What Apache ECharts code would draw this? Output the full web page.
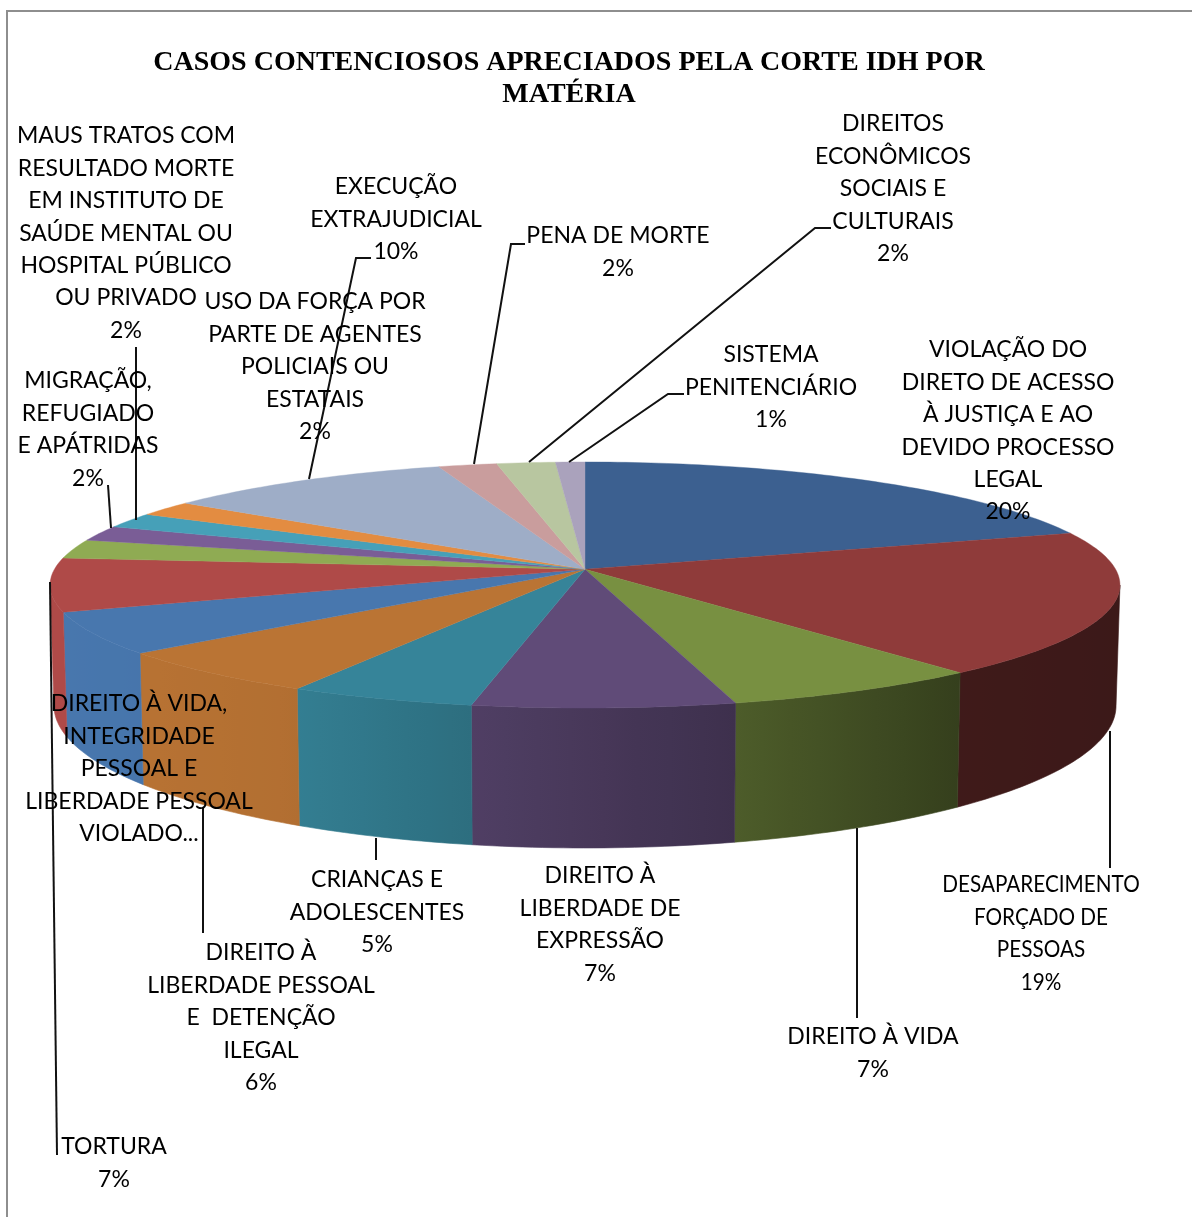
<!DOCTYPE html>
<html lang="pt">
<head>
<meta charset="utf-8">
<title>Casos contenciosos por matéria</title>
<style>html,body{margin:0;padding:0;background:#fff}#chart{width:1192px;height:1217px}</style>
<script src="https://cdn.jsdelivr.net/npm/echarts@6/dist/echarts.min.js"></script>
</head>
<body>
<div id="chart"></div>
<script>
// Subject names, clockwise from twelve o'clock.
const categories = [
  'VIOLAÇÃO DO\nDIRETO DE ACESSO\nÀ JUSTIÇA E AO\nDEVIDO PROCESSO\nLEGAL',
  'DESAPARECIMENTO\nFORÇADO DE\nPESSOAS',
  'DIREITO À VIDA',
  'DIREITO À\nLIBERDADE DE\nEXPRESSÃO',
  'CRIANÇAS E\nADOLESCENTES',
  'DIREITO À\nLIBERDADE PESSOAL\nE  DETENÇÃO\nILEGAL',
  'DIREITO À VIDA,\nINTEGRIDADE\nPESSOAL E\nLIBERDADE PESSOAL\nVIOLADO...',
  'TORTURA',
  '',
  'MIGRAÇÃO,\nREFUGIADO\nE APÁTRIDAS',
  'MAUS TRATOS COM\nRESULTADO MORTE\nEM INSTITUTO DE\nSAÚDE MENTAL OU\nHOSPITAL PÚBLICO\nOU PRIVADO',
  'USO DA FORÇA POR\nPARTE DE AGENTES\nPOLICIAIS OU\nESTATAIS',
  'EXECUÇÃO\nEXTRAJUDICIAL',
  'PENA DE MORTE',
  'DIREITOS\nECONÔMICOS\nSOCIAIS E\nCULTURAIS',
  'SISTEMA\nPENITENCIÁRIO'
];
const values = [20, 19, 7, 7, 5, 6, 5.5, 7, 2.5, 2, 2, 2, 10, 2, 2, 1];
const percentShown = [1, 1, 1, 1, 1, 1, 0, 1, 0, 1, 1, 1, 1, 1, 1, 1];
const sliceColors = ['#3C6090', '#8F3B3A', '#789041', '#604B78', '#368499', '#BA7434', '#4877AE', '#AF4A48',
  '#8FAB53', '#7A5D96', '#46A0B8', '#E38C41', '#9EADC7', '#C99D9D', '#B8C6A0', '#AAA2BC'];

// Where each label block sits: centre x and the middle of its first line.
const labelAnchors = [[1008, 350], [1041, 885], [873, 1037], [600, 876], [377, 880], [261, 953], [139, 704], [114, 1147],
  [0, 0], [88, 381], [126, 136], [315, 302], [396, 187], [618, 236], [893, 124], [771, 355]];
// Horizontal squeeze of the long label under the right-hand wall.
const labelSqueeze = { 1: 0.9 };
// Leader lines from the pie rim out to the labels.
const leaderPaths = [null, [[1110, 731], [1110, 868]], [[857, 828], [857, 1018]], null, [[376, 838], [376, 860]],
  [[203, 808], [203, 933]], null, [[50, 582], [57, 1155]], null, [[111, 528], [108, 485]], [[136, 520], [136, 347]], null,
  [[309, 479], [356, 258], [371, 258]], [[474, 464], [511, 244], [525, 244]],
  [[529, 462], [815, 228], [831, 228]], [[569, 462], [668, 394], [684, 394]]];

const TOTAL = values.reduce((a, b) => a + b, 0);
const startShares = [];
values.reduce((sum, v, i) => { startShares[i] = sum; return sum + v; }, 0);

// Perspective views of the upper and lower faces of the disc.
const topFace = { cx: 585, cy: 569.3, rx: 530.6, ky: 121, persp: 0.1276 };
const baseFace = { cx: 585, cy: 687.5, rx: 526.7, ky: 140, persp: 0.1276 };
const rimPoint = (f, t) => {
  const u = Math.sin(t), v = Math.cos(t), s = 1 / (1 + f.persp * v);
  return [f.cx + f.rx * u * s, f.cy - f.ky * v * s];
};
const arc = (f, a, b) => {
  const n = Math.max(2, Math.ceil((b - a) / (Math.PI / 180)));
  const pts = [];
  for (let i = 0; i <= n; i++) pts.push(rimPoint(f, a + (b - a) * i / n));
  return pts;
};
// Only the part of the rim between the two silhouette tangents faces the viewer.
const WALL_FROM = Math.acos(-topFace.persp);
const WALL_TO = 2 * Math.PI - WALL_FROM;

// The side wall darkens from left to right.
const lightStops = [[50, 1], [285, 0.96], [472, 0.83], [737, 0.64], [960, 0.44], [1120, 0.42]];
const shadeAt = x => {
  for (let i = 1; i < lightStops.length; i++) {
    if (x <= lightStops[i][0]) {
      const [x0, s0] = lightStops[i - 1], [x1, s1] = lightStops[i];
      return s0 + (s1 - s0) * Math.max(0, x - x0) / (x1 - x0);
    }
  }
  return lightStops[lightStops.length - 1][1];
};
const darken = (hex, k) => {
  const n = parseInt(hex.slice(1), 16);
  return 'rgb(' + [n >> 16, (n >> 8) & 255, n & 255].map(c => Math.round(c * k)).join(',') + ')';
};
const wallFill = (color, pts) => {
  const xs = pts.map(p => p[0]), x0 = Math.min(...xs), x1 = Math.max(...xs);
  const colorStops = [];
  for (let i = 0; i <= 8; i++) {
    colorStops.push({ offset: i / 8, color: darken(color, shadeAt(x0 + (x1 - x0) * i / 8)) });
  }
  return { type: 'linear', x: x0, y: 0, x2: x1, y2: 0, global: true, colorStops };
};

const LABEL_FONT = '23px Lato, Carlito, sans-serif';
const LINE_H = 32.4;

function renderSlice(params, api) {
  const i = params.dataIndex;
  const a = startShares[i] / TOTAL * 2 * Math.PI;
  const b = (startShares[i] + api.value(0)) / TOTAL * 2 * Math.PI;
  const color = sliceColors[i];
  const children = [];

  const wa = Math.max(a, WALL_FROM), wb = Math.min(b, WALL_TO);
  if (wb > wa) {
    const wall = arc(topFace, wa, wb).concat(arc(baseFace, wa, wb).reverse());
    const fill = wallFill(color, wall);
    children.push({
      type: 'polygon', z2: 1, shape: { points: wall },
      style: { fill, stroke: fill, lineWidth: 0.6 }
    });
  }
  children.push({
    type: 'polygon', z2: 2, shape: { points: [[topFace.cx, topFace.cy]].concat(arc(topFace, a, b)) },
    style: { fill: color, stroke: color, lineWidth: 0.4 }
  });
  if (leaderPaths[i]) {
    children.push({
      type: 'polyline', z2: 3, shape: { points: leaderPaths[i] },
      style: { fill: null, stroke: '#111', lineWidth: 2 }
    });
  }
  if (categories[i]) {
    const text = categories[i] + (percentShown[i] ? '\n' + Math.round(api.value(0)) + '%' : '');
    children.push({
      type: 'text', z2: 4, x: labelAnchors[i][0], y: labelAnchors[i][1] - LINE_H / 2,
      scaleX: labelSqueeze[i] || 1,
      style: { text, font: LABEL_FONT, fill: '#000', align: 'center', verticalAlign: 'top', lineHeight: LINE_H }
    });
  }
  return { type: 'group', children };
}

const chart = echarts.init(document.getElementById('chart'), null, { renderer: 'canvas' });
chart.setOption({
  animation: false,
  backgroundColor: '#fff',
  title: {
    text: 'CASOS CONTENCIOSOS APRECIADOS PELA CORTE IDH POR\nMATÉRIA',
    left: 564, top: 42, textAlign: 'center',
    textStyle: { fontFamily: '"Liberation Serif", serif', fontWeight: 'bold', fontSize: 28, lineHeight: 32, color: '#000' }
  },
  graphic: [
    { type: 'polyline', shape: { points: [[7, 1217], [7, 11], [1192, 11]] }, style: { fill: null, stroke: '#8E8E8E', lineWidth: 2 } }
  ],
  series: [{
    type: 'custom',
    coordinateSystem: 'none',
    renderItem: renderSlice,
    silent: true,
    data: values.map(v => [v])
  }]
});
</script>
</body>
</html>
